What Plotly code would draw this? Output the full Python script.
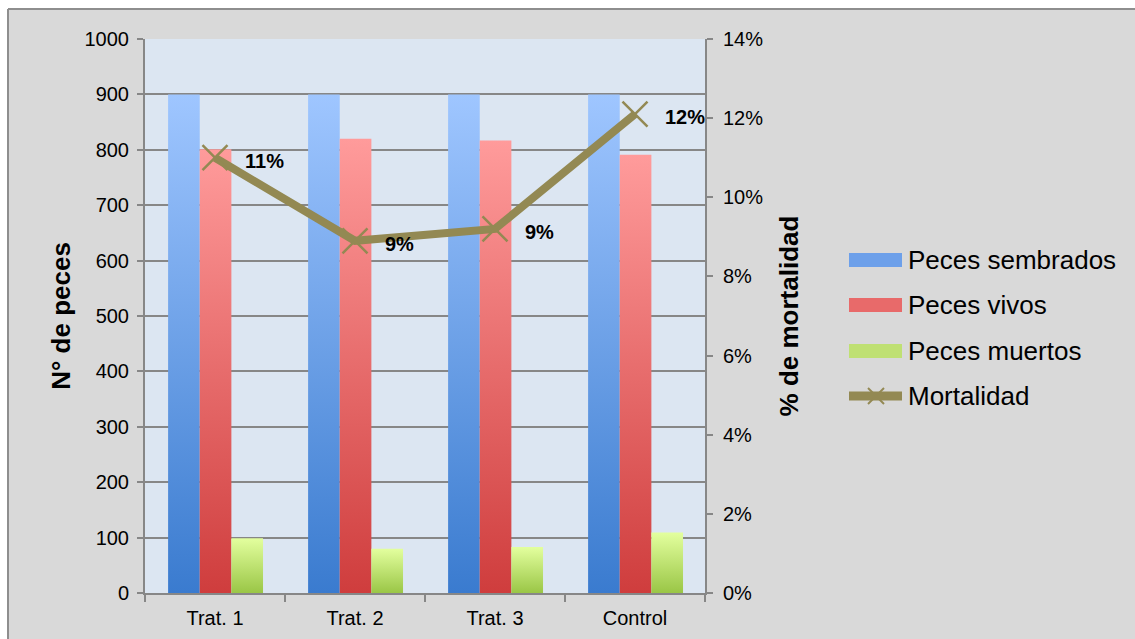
import plotly.graph_objects as go

# ---- data -------------------------------------------------------------
categorias = ["Trat. 1", "Trat. 2", "Trat. 3", "Control"]
peces_sembrados = [900, 900, 900, 900]
peces_vivos = [801, 820, 817, 791]
peces_muertos = [99, 80, 83, 109]
mortalidad = [0.110, 0.089, 0.092, 0.121]

# ---- page geometry ------------------------------------------------------
W, H = 1135, 639
ML, MR, MT, MB = 145, 430, 39, 46
FONT = "Arial, Liberation Sans, sans-serif"
GRID = "#878787"
OLIVE = "#938953"


def px_x(p):
    return (p - ML) / (W - ML - MR)


def px_y(p):
    return 1 - (p - MT) / (H - MT - MB)


# name, values, bottom colour, top colour, offset inside the category
series = [
    ("Peces sembrados", peces_sembrados, "#3a7bcf", "#9fc6ff", -0.222),
    ("Peces vivos", peces_vivos, "#cf3d3d", "#ff9b9b", 0.004),
    ("Peces muertos", peces_muertos, "#9ac646", "#e3ff9e", 0.230),
]
BAR_W = 0.226

fig = go.Figure()

# gradient-filled columns on a numeric category axis
for name, vals, dark, light, off in series:
    for i, v in enumerate(vals):
        x0, x1 = i + off - BAR_W / 2, i + off + BAR_W / 2
        fig.add_trace(go.Scatter(
            x=[x0, x1, x1, x0, x0], y=[0, 0, v, v, 0],
            mode="lines", fill="toself", line=dict(width=0),
            fillgradient=dict(type="vertical",
                              colorscale=[[0, dark], [1, light]]),
            name=name, showlegend=False,
            hovertemplate=f"{categorias[i]}<br>{name}: {v}<extra></extra>",
        ))

# mortality line on the secondary axis
xs = list(range(len(categorias)))
fig.add_trace(go.Scatter(
    x=xs, y=mortalidad, yaxis="y2",
    mode="lines+markers", name="Mortalidad", showlegend=False,
    line=dict(color=OLIVE, width=8),
    marker=dict(symbol="x-thin", size=25, color=OLIVE,
                line=dict(width=2.5, color=OLIVE)),
    cliponaxis=False,
))

annotations = []
# percentage labels next to each point
for x, m in zip(xs, mortalidad):
    annotations.append(dict(
        x=x, y=m, xref="x", yref="y2", text=f"<b>{m:.0%}</b>",
        showarrow=False, xanchor="left", yanchor="middle",
        xshift=28, yshift=-3,
        font=dict(family=FONT, size=20, color="#000000"),
    ))

# ---- hand-built legend --------------------------------------------------
shapes = []
legend_rows = [
    ("Peces sembrados", "#6da0ea", 260),
    ("Peces vivos", "#e86a6a", 305),
    ("Peces muertos", "#bfe073", 351),
]
for label, col, cy in legend_rows:
    shapes.append(dict(type="rect", xref="paper", yref="paper",
                       x0=px_x(849), x1=px_x(902),
                       y0=px_y(cy + 7), y1=px_y(cy - 7),
                       fillcolor=col, line=dict(width=0)))
    annotations.append(dict(text=label, xref="paper", yref="paper",
                            x=px_x(906), y=px_y(cy), xanchor="left",
                            yanchor="middle", showarrow=False,
                            font=dict(family=FONT, size=26, color="#000000")))

ly = 396
shapes.append(dict(type="line", xref="paper", yref="paper",
                   x0=px_x(849), x1=px_x(902), y0=px_y(ly), y1=px_y(ly),
                   line=dict(color=OLIVE, width=9)))
for dx in (-1, 1):
    shapes.append(dict(type="line", xref="paper", yref="paper",
                       x0=px_x(876 - 8), x1=px_x(876 + 8),
                       y0=px_y(ly - 8 * dx), y1=px_y(ly + 8 * dx),
                       line=dict(color=OLIVE, width=2)))
annotations.append(dict(text="Mortalidad", xref="paper", yref="paper",
                        x=px_x(906), y=px_y(ly), xanchor="left",
                        yanchor="middle", showarrow=False,
                        font=dict(family=FONT, size=26, color="#000000")))

# outer frame of the chart area
shapes += [
    dict(type="rect", xref="paper", yref="paper", layer="below",
         x0=px_x(0), x1=px_x(W), y0=px_y(0), y1=px_y(8),
         fillcolor="#ffffff", line=dict(width=0)),
    dict(type="rect", xref="paper", yref="paper", layer="below",
         x0=px_x(0), x1=px_x(8), y0=px_y(0), y1=px_y(H),
         fillcolor="#ffffff", line=dict(width=0)),
    dict(type="line", xref="paper", yref="paper",
         x0=px_x(8), x1=px_x(W), y0=px_y(9), y1=px_y(9),
         line=dict(color="#8e8e8e", width=2)),
    dict(type="line", xref="paper", yref="paper",
         x0=px_x(8), x1=px_x(8), y0=px_y(9), y1=px_y(H),
         line=dict(color="#8e8e8e", width=2)),
]

fig.update_layout(
    width=W, height=H,
    margin=dict(l=ML, r=MR, t=MT, b=MB, pad=0),
    paper_bgcolor="#d9d9d9",
    plot_bgcolor="#dce6f2",
    font=dict(family=FONT, size=20, color="#000000"),
    showlegend=False,
    shapes=shapes,
    annotations=annotations,
    xaxis=dict(
        range=[-0.5, 3.5], automargin=False,
        tickmode="array", tickvals=xs,
        ticktext=categorias, ticks="",
        tickfont=dict(size=20),
        ticklabelstandoff=6,
        showgrid=False, zeroline=False,
        showline=True, linecolor=GRID, linewidth=2,
        minor=dict(ticks="outside", tick0=-0.5, dtick=1, ticklen=7,
                   tickcolor=GRID, tickwidth=2, showgrid=False),
        fixedrange=True,
    ),
    yaxis=dict(
        range=[0, 1000], dtick=100, automargin=False,
        title=dict(text="<b>N° de peces</b>", standoff=6,
                   font=dict(size=26)),
        tickfont=dict(size=20),
        ticks="outside", ticklen=6, tickcolor=GRID, tickwidth=2,
        showgrid=True, gridcolor=GRID, gridwidth=1.6,
        zeroline=False,
        showline=True, linecolor=GRID, linewidth=2,
        ticklabelstandoff=4,
    ),
    yaxis2=dict(
        range=[0, 0.14], dtick=0.02, tickformat=".0%", automargin=False,
        overlaying="y", side="right",
        title=dict(text="<b>% de mortalidad</b>", standoff=18,
                   font=dict(size=26)),
        tickfont=dict(size=20),
        ticks="outside", ticklen=6, tickcolor=GRID, tickwidth=2,
        showgrid=False, zeroline=False,
        showline=True, linecolor=GRID, linewidth=2,
        ticklabelstandoff=6,
    ),
)

fig.write_html("out.html")
